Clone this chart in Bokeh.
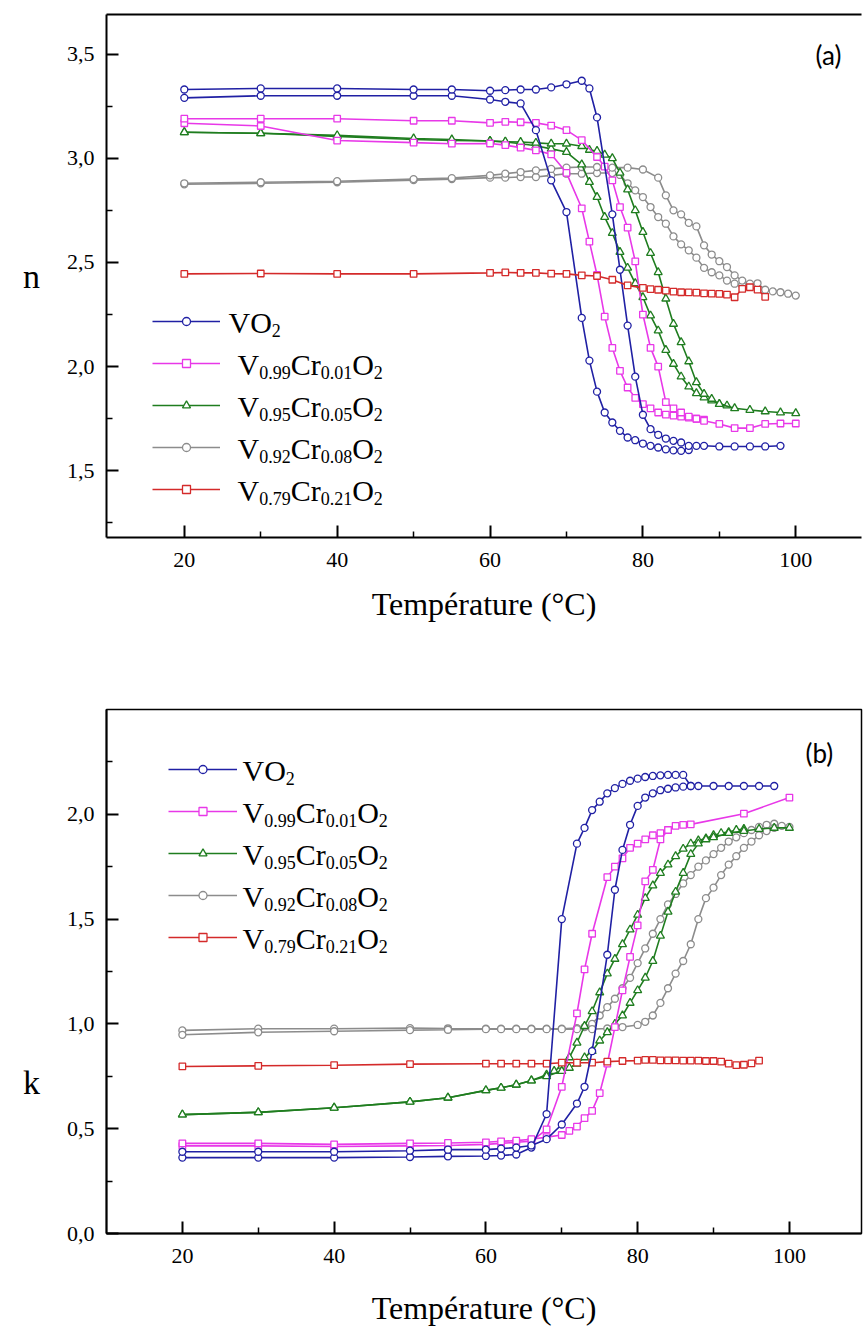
from bokeh.plotting import figure
from bokeh.models import (Legend, LegendItem, Label, LinearAxis, FixedTicker,
                          CustomJSTickFormatter, Range1d)
from bokeh.layouts import column
from bokeh.embed import file_html
from bokeh.resources import INLINE

# ---------------- data : (a) refractive index n ----------------
vo2_heat_t = [20,30,40,50,55,60,62,64,66,68,70,72,73,74,76,77,78,79,80,81,82,83,84,85,86,87,88,90,92,94,96,98]
vo2_heat_n = [3.33,3.335,3.335,3.33,3.33,3.324,3.327,3.33,3.33,3.34,3.355,3.372,3.335,3.196,2.731,2.465,2.197,1.952,1.769,1.70,1.673,1.655,1.644,1.636,1.62,1.62,1.62,1.617,1.617,1.617,1.617,1.62]
vo2_cool_t = [20,30,40,50,55,60,62,64,66,68,70,72,73,74,75,76,77,78,79,80,81,82,83,84,85,86]
vo2_cool_n = [3.29,3.30,3.30,3.30,3.30,3.282,3.271,3.263,3.135,2.894,2.742,2.234,2.029,1.88,1.78,1.732,1.692,1.66,1.647,1.631,1.62,1.612,1.603,1.598,1.596,1.60]

cr01_heat_t = [20,30,40,50,55,60,62,64,66,68,70,72,74,75,76,77,78,79,80,81,82,83,84,85,86,87,88,90,92,94,96,98,100]
cr01_heat_n = [3.19,3.19,3.19,3.18,3.18,3.17,3.175,3.173,3.17,3.157,3.135,3.087,3.006,2.96,2.894,2.766,2.667,2.505,2.25,2.09,2.0,1.83,1.80,1.78,1.76,1.75,1.74,1.725,1.705,1.705,1.725,1.727,1.727]
cr01_cool_t = [20,30,40,50,55,60,62,64,66,68,70,72,73,74,75,76,77,78,79,80,81,82,83,84,85,86,87,88]
cr01_cool_n = [3.168,3.155,3.085,3.075,3.07,3.071,3.063,3.051,3.038,3.019,2.93,2.76,2.60,2.44,2.24,2.09,1.98,1.90,1.85,1.82,1.80,1.78,1.77,1.765,1.76,1.755,1.75,1.745]

cr05_heat_t = [20,30,40,50,55,60,62,64,66,68,70,72,73,74,75,76,77,78,79,80,81,82,83,84,85,86,87,88,89,90,92,94,96,98,100]
cr05_heat_n = [3.125,3.12,3.11,3.095,3.09,3.083,3.08,3.078,3.074,3.07,3.07,3.058,3.04,3.035,3.017,3.0,2.93,2.85,2.75,2.646,2.545,2.453,2.326,2.205,2.117,2.025,1.925,1.869,1.845,1.82,1.80,1.792,1.785,1.78,1.776]
cr05_cool_t = [20,30,40,50,55,60,62,64,66,68,70,72,73,74,75,76,77,78,79,80,81,82,83,84,85,86,87,88,89,90,91]
cr05_cool_n = [3.125,3.12,3.105,3.09,3.085,3.083,3.078,3.07,3.06,3.045,3.03,2.97,2.886,2.814,2.718,2.641,2.55,2.474,2.40,2.333,2.245,2.173,2.08,2.013,1.952,1.904,1.872,1.852,1.837,1.821,1.813]

cr08_heat_t = [20,30,40,50,55,60,62,64,66,68,70,72,74,76,78,80,82,83,84,85,86,87,88,89,90,91,92,93,94,95,96,97,98,99,100]
cr08_heat_n = [2.88,2.885,2.89,2.90,2.905,2.918,2.926,2.934,2.942,2.949,2.955,2.958,2.958,2.955,2.955,2.946,2.907,2.822,2.75,2.731,2.69,2.673,2.582,2.538,2.506,2.478,2.438,2.413,2.398,2.40,2.369,2.361,2.357,2.35,2.341]
cr08_cool_t = [20,30,40,50,55,60,62,64,66,68,70,72,74,76,77,78,79,80,81,82,83,84,85,86,87,88,89,90,91,92,93]
cr08_cool_n = [2.875,2.88,2.885,2.895,2.90,2.907,2.907,2.91,2.91,2.918,2.926,2.926,2.929,2.929,2.92,2.88,2.846,2.814,2.766,2.718,2.686,2.625,2.587,2.558,2.523,2.474,2.453,2.438,2.413,2.398,2.39]

cr21_t = [20,30,40,50,60,62,64,66,68,70,72,74,76,78,80,81,82,83,84,85,86,87,88,89,90,91,92,93,94,95,96]
cr21_n = [2.445,2.447,2.445,2.445,2.45,2.452,2.45,2.45,2.446,2.445,2.438,2.435,2.417,2.39,2.378,2.372,2.369,2.365,2.36,2.357,2.356,2.355,2.352,2.35,2.349,2.346,2.333,2.373,2.381,2.37,2.335]

# ---------------- data : (b) extinction coefficient k ----------------
vo2_heat_kt = [20,30,40,50,55,60,62,64,66,68,70,72,73,74,76,77,78,79,80,81,82,83,84,85,86,87,88,90,92,94,96,98]
vo2_heat_k = [0.39,0.39,0.39,0.395,0.40,0.40,0.405,0.41,0.42,0.45,0.52,0.62,0.70,0.87,1.33,1.64,1.83,1.95,2.04,2.08,2.10,2.115,2.122,2.128,2.132,2.135,2.135,2.135,2.135,2.135,2.135,2.135]
vo2_cool_kt = [20,30,40,50,55,60,62,64,66,68,70,72,73,74,75,76,77,78,79,80,81,82,83,84,85,86,87]
vo2_cool_k = [0.362,0.362,0.362,0.365,0.368,0.37,0.372,0.377,0.41,0.57,1.50,1.86,1.935,2.02,2.06,2.10,2.125,2.145,2.16,2.17,2.178,2.183,2.186,2.188,2.188,2.188,2.135]

cr01_heat_kt = [20,30,40,50,55,60,62,64,66,68,70,71,72,73,74,75,76,77,78,79,80,81,82,83,84,85,86,87,94,100]
cr01_heat_k = [0.43,0.43,0.425,0.43,0.432,0.435,0.44,0.443,0.45,0.46,0.47,0.49,0.51,0.55,0.585,0.67,0.81,0.985,1.16,1.32,1.47,1.68,1.735,1.88,1.925,1.945,1.95,1.952,2.003,2.08]
cr01_cool_kt = [20,30,40,50,55,60,62,64,66,68,70,72,73,74,76,77,78,79,80,81,82,83,84]
cr01_cool_k = [0.418,0.418,0.415,0.418,0.42,0.425,0.43,0.435,0.44,0.497,0.70,1.05,1.26,1.43,1.70,1.75,1.79,1.84,1.86,1.88,1.90,1.91,1.925]

cr05_heat_kt = [20,30,40,50,55,60,62,64,66,68,70,71,72,73,74,75,76,77,78,79,80,81,82,83,84,85,86,87,88,89,90,92,94,96,98,100]
cr05_heat_k = [0.567,0.578,0.60,0.628,0.648,0.683,0.695,0.71,0.73,0.75,0.775,0.79,0.81,0.84,0.87,0.92,0.96,1.0,1.04,1.10,1.16,1.22,1.30,1.42,1.535,1.63,1.72,1.81,1.86,1.88,1.89,1.91,1.92,1.93,1.935,1.935]
cr05_cool_kt = [20,30,40,50,55,60,62,64,66,68,69,70,71,72,73,74,75,76,77,78,79,80,81,82,83,84,85,86,87,88,89,90,91,92,93,94]
cr05_cool_k = [0.567,0.578,0.60,0.628,0.648,0.683,0.695,0.71,0.73,0.758,0.775,0.80,0.84,0.91,0.99,1.06,1.15,1.24,1.31,1.38,1.45,1.52,1.60,1.66,1.72,1.76,1.80,1.835,1.86,1.875,1.885,1.90,1.91,1.915,1.925,1.93]

cr08_heat_kt = [20,30,40,50,55,60,62,64,66,68,70,72,74,76,78,80,81,82,83,84,85,86,87,88,89,90,91,92,93,94,95,96,97,98,99,100]
cr08_heat_k = [0.948,0.96,0.965,0.97,0.972,0.975,0.975,0.975,0.975,0.975,0.975,0.975,0.975,0.978,0.985,0.995,1.01,1.04,1.10,1.17,1.24,1.30,1.38,1.50,1.60,1.65,1.71,1.76,1.80,1.84,1.87,1.90,1.92,1.935,1.945,1.94]
cr08_cool_kt = [20,30,40,50,55,60,62,64,66,68,70,72,73,74,75,76,77,78,79,80,81,82,83,84,85,86,87,88,89,90,91,92,93,94,95,96,97,98]
cr08_cool_k = [0.969,0.977,0.977,0.98,0.978,0.977,0.977,0.977,0.977,0.977,0.977,0.98,0.985,1.0,1.04,1.08,1.12,1.17,1.22,1.29,1.36,1.43,1.50,1.57,1.62,1.67,1.71,1.75,1.78,1.81,1.84,1.87,1.89,1.91,1.925,1.94,1.95,1.955]

cr21_kt = [20,30,40,50,60,62,64,66,68,70,72,74,76,78,80,81,82,83,84,85,86,87,88,89,90,91,92,93,94,95,96]
cr21_k = [0.797,0.80,0.803,0.808,0.81,0.81,0.81,0.81,0.81,0.815,0.815,0.815,0.82,0.823,0.825,0.828,0.828,0.826,0.826,0.826,0.825,0.825,0.825,0.823,0.823,0.82,0.81,0.803,0.805,0.812,0.825]

# ---------------- ticks / labels ----------------
x_ticks = [20, 40, 60, 80, 100]
x_minor = [30, 50, 70, 90]
n_ticks = [1.5, 2.0, 2.5, 3.0, 3.5]
n_minor = [1.25, 1.75, 2.25, 2.75, 3.25]
k_ticks = [0.0, 0.5, 1.0, 1.5, 2.0]
k_minor = [0.25, 0.75, 1.25, 1.75, 2.25]
x_title = "Température (°C)"

legend_parts = [
    [("VO", False), ("2", True)],
    [("V", False), ("0.99", True), ("Cr", False), ("0.01", True), ("O", False), ("2", True)],
    [("V", False), ("0.95", True), ("Cr", False), ("0.05", True), ("O", False), ("2", True)],
    [("V", False), ("0.92", True), ("Cr", False), ("0.08", True), ("O", False), ("2", True)],
    [("V", False), ("0.79", True), ("Cr", False), ("0.21", True), ("O", False), ("2", True)],
]

BLUE = "#2020a4"
MAGENTA = "#e838e8"
GREEN = "#1f7d1f"
GRAY = "#8c8c8c"
RED = "#d42a2a"
SERIF = "Liberation Serif"

CHAR_W = {"V": 0.722, "O": 0.722, "C": 0.667, "r": 0.333, ".": 0.25}


def text_w(s, size):
    return sum(CHAR_W.get(c, 0.5) for c in s) * size


def style_axes(p, yticks, yminor, title_standoff):
    p.grid.visible = False
    for ax in (p.xaxis[0], p.yaxis[0]):
        ax.axis_line_width = 2
        ax.axis_line_color = "black"
        ax.major_tick_in = 12
        ax.major_tick_out = 0
        ax.minor_tick_in = 6
        ax.minor_tick_out = 0
        ax.major_tick_line_width = 2
        ax.minor_tick_line_width = 1.5
        ax.major_label_text_font = SERIF
        ax.major_label_text_font_style = "normal"
        ax.major_label_text_font_size = "22px"
        ax.major_label_text_color = "black"
    p.xaxis[0].ticker = FixedTicker(ticks=x_ticks, minor_ticks=x_minor)
    p.yaxis[0].ticker = FixedTicker(ticks=yticks, minor_ticks=yminor)
    p.yaxis[0].formatter = CustomJSTickFormatter(code="return tick.toFixed(1).replace('.', ',');")
    p.yaxis[0].major_label_standoff = 12
    p.xaxis[0].major_label_standoff = 15
    p.xaxis[0].axis_label = x_title
    p.xaxis[0].axis_label_text_font = SERIF
    p.xaxis[0].axis_label_text_font_style = "normal"
    p.xaxis[0].axis_label_text_font_size = "32px"
    p.xaxis[0].axis_label_text_color = "black"
    p.xaxis[0].axis_label_standoff = title_standoff


def side_label(ax, text):
    ax.axis_label = text
    ax.axis_label_orientation = "horizontal"
    ax.axis_label_text_font = SERIF
    ax.axis_label_text_font_style = "normal"
    ax.axis_label_text_font_size = "34px"
    ax.axis_label_text_color = "black"
    ax.axis_label_standoff = 24


def series(p, x, y, color, marker, size):
    r1 = p.line(x, y, line_color=color, line_width=1.6)
    r2 = p.scatter(x, y, marker=marker, size=size, line_color=color,
                   fill_color="white", line_width=1.3)
    return [r1, r2]


def add_legend(p, items, lx, ly, gw, text_x, first_row, ref_bottom, vo2_x):
    leg = Legend(items=[LegendItem(label=" ", renderers=r) for r in items],
                 location=(lx, ly), glyph_width=gw, glyph_height=20,
                 label_height=20, label_width=1, spacing=22, padding=0, margin=0,
                 label_standoff=0, label_text_font_size="1px",
                 border_line_color=None, background_fill_alpha=0)
    p.add_layout(leg)
    for i, parts in enumerate(legend_parts):
        row = first_row + 42 * i
        base = ref_bottom - (row + 10)
        x = vo2_x if i == 0 else text_x
        for txt, sub in parts:
            size = 18 if sub else 30
            p.add_layout(Label(x=x, y=base - (8 if sub else 0), x_units="screen",
                               y_units="screen", text=txt, text_font=SERIF,
                               text_font_size=f"{size}px", text_color="black",
                               text_baseline="alphabetic", text_align="left"))
            x += text_w(txt, size)


# ---------------- figure (a) ----------------
p1 = figure(width=863, height=645, x_range=Range1d(9.82, 108.6), y_range=Range1d(1.18, 3.69),
            output_backend="svg", toolbar_location=None,
            min_border_left=106, min_border_right=0, min_border_top=14, min_border_bottom=108)
p1.outline_line_color = None
style_axes(p1, n_ticks, n_minor, 16)
side_label(p1.yaxis[0], "n")
top_ax = LinearAxis(ticker=FixedTicker(ticks=[]), axis_line_width=2, axis_line_color="black",
                    major_tick_out=0, minor_tick_out=0, major_tick_in=0, minor_tick_in=0,
                    major_label_standoff=0, major_label_text_font_size="0px")
p1.add_layout(top_ax, "above")

series(p1, cr08_cool_t, cr08_cool_n, GRAY, "circle", 7)
a_gray = series(p1, cr08_heat_t, cr08_heat_n, GRAY, "circle", 7)
series(p1, cr05_cool_t, cr05_cool_n, GREEN, "triangle", 8)
a_green = series(p1, cr05_heat_t, cr05_heat_n, GREEN, "triangle", 8)
series(p1, cr01_cool_t, cr01_cool_n, MAGENTA, "square", 6.5)
a_mag = series(p1, cr01_heat_t, cr01_heat_n, MAGENTA, "square", 6.5)
series(p1, vo2_cool_t, vo2_cool_n, BLUE, "circle", 7)
a_blue = series(p1, vo2_heat_t, vo2_heat_n, BLUE, "circle", 7)
a_red = series(p1, cr21_t, cr21_n, RED, "square", 6.5)
add_legend(p1, [a_blue, a_mag, a_green, a_gray, a_red], 46, 38, 68, 131, 321, 546, 122)

p1.add_layout(Label(x=709, y=483, x_units="screen", y_units="screen", text="(a)",
                    text_font="Lato", text_font_size="26px", text_color="black",
                    text_align="left", text_baseline="middle"))

# ---------------- figure (b) ----------------
p2 = figure(width=863, height=684, x_range=Range1d(10.0, 109.5), y_range=Range1d(0.0, 2.5),
            output_backend="svg", toolbar_location=None,
            min_border_left=106, min_border_right=2, min_border_top=64, min_border_bottom=96)
p2.outline_line_color = "black"
p2.outline_line_width = 1.5
style_axes(p2, k_ticks, k_minor, 24)
# horizontal "k" title, pushed into the lower half of the axis with leading blank lines
side_label(p2.yaxis[0], "\n\n\n\n\nk")

series(p2, cr08_cool_kt, cr08_cool_k, GRAY, "circle", 7)
b_gray = series(p2, cr08_heat_kt, cr08_heat_k, GRAY, "circle", 7)
series(p2, cr05_cool_kt, cr05_cool_k, GREEN, "triangle", 8)
b_green = series(p2, cr05_heat_kt, cr05_heat_k, GREEN, "triangle", 8)
series(p2, cr01_cool_kt, cr01_cool_k, MAGENTA, "square", 6.5)
b_mag = series(p2, cr01_heat_kt, cr01_heat_k, MAGENTA, "square", 6.5)
b_red = series(p2, cr21_kt, cr21_k, RED, "square", 6.5)
series(p2, vo2_cool_kt, vo2_cool_k, BLUE, "circle", 7)
b_blue = series(p2, vo2_heat_kt, vo2_heat_k, BLUE, "circle", 7)
add_legend(p2, [b_blue, b_mag, b_green, b_gray, b_red], 62, 286, 69, 136, 769, 1242, 136)

p2.add_layout(Label(x=699, y=481, x_units="screen", y_units="screen", text="(b)",
                    text_font="Lato", text_font_size="26px", text_color="black",
                    text_align="left", text_baseline="middle"))

layout = column(p1, p2, spacing=0)
open("out.html", "w").write(file_html(layout, INLINE))
